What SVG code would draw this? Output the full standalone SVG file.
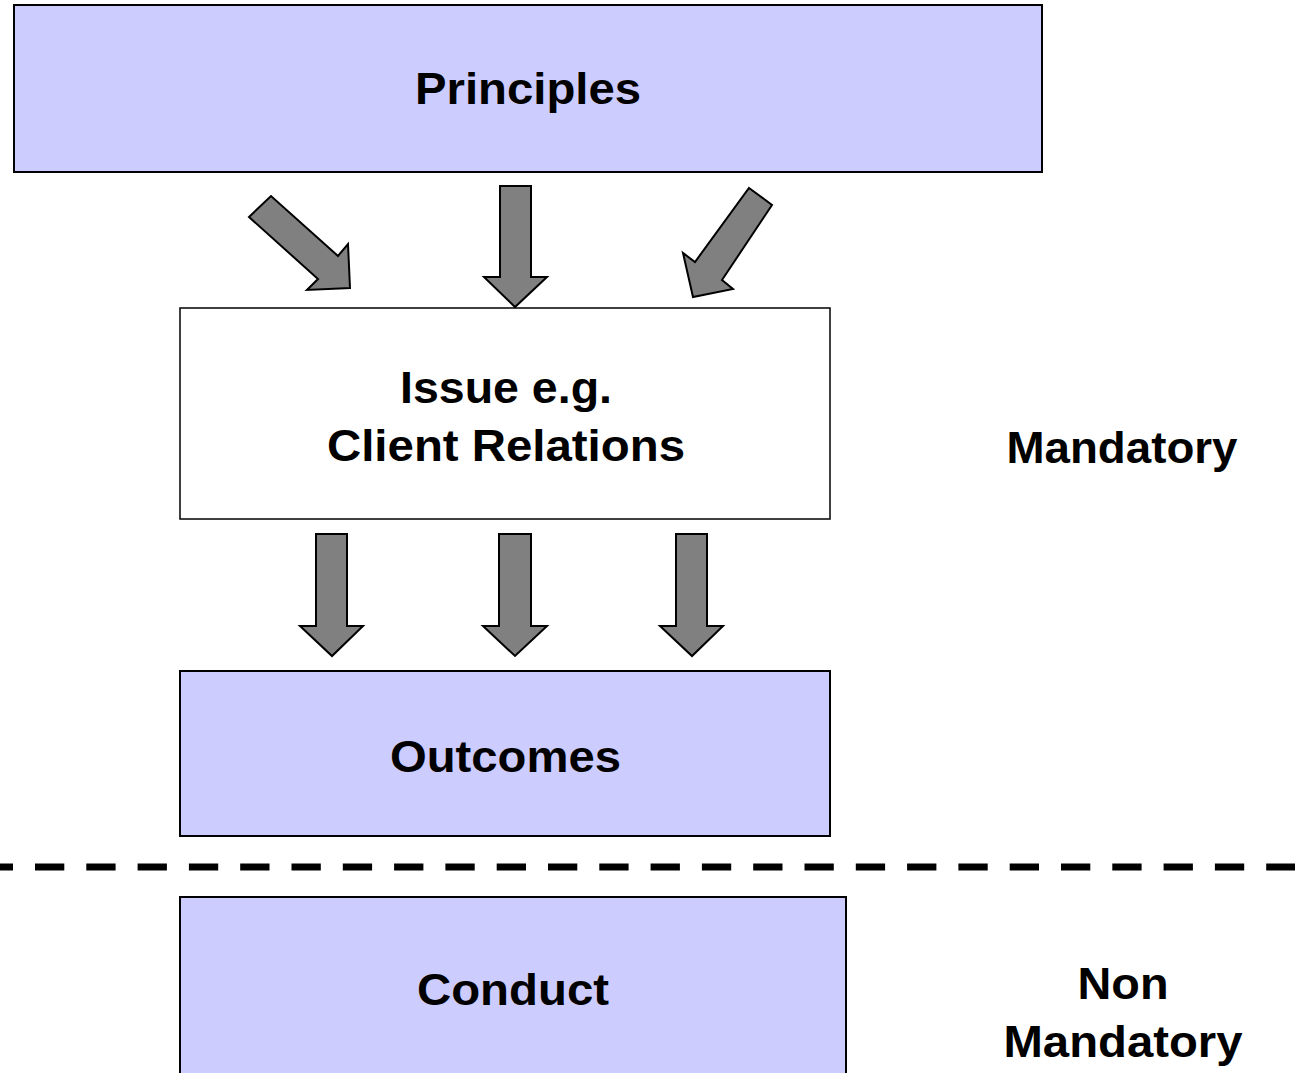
<svg xmlns="http://www.w3.org/2000/svg" width="1295" height="1073" viewBox="0 0 1295 1073">
<style>
.box{fill:#CCCCFF;stroke:#000;stroke-width:2}
.wbox{fill:#FFFFFF;stroke:#000;stroke-width:1.5}
.arr{fill:#808080;stroke:#000;stroke-width:2;stroke-linejoin:miter}
.t{font-family:"Liberation Sans",Arial,sans-serif;font-weight:bold;font-size:44px;fill:#000;text-anchor:middle}
</style>
<rect width="1295" height="1073" fill="#FFFFFF"/>
<g id="principles">
<rect class="box" x="14" y="5" width="1028" height="167"/>
<text class="t" x="528" y="104" textLength="226" lengthAdjust="spacingAndGlyphs">Principles</text>
</g>
<g id="issue">
<rect class="wbox" x="180" y="308" width="650" height="211"/>
<text class="t" x="506" y="403" textLength="212" lengthAdjust="spacingAndGlyphs">Issue e.g.</text>
<text class="t" x="506" y="461" textLength="358" lengthAdjust="spacingAndGlyphs">Client Relations</text>
</g>
<g id="outcomes">
<rect class="box" x="180" y="671" width="650" height="165"/>
<text class="t" x="505.5" y="772" textLength="231" lengthAdjust="spacingAndGlyphs">Outcomes</text>
</g>
<g id="conduct">
<rect class="box" x="180" y="897" width="666" height="200"/>
<text class="t" x="513" y="1005" textLength="192" lengthAdjust="spacingAndGlyphs">Conduct</text>
</g>
<g id="mandatory">
<text class="t" x="1122" y="463" textLength="231" lengthAdjust="spacingAndGlyphs">Mandatory</text>
</g>
<g id="non-mandatory">
<text class="t" x="1123" y="999" textLength="91" lengthAdjust="spacingAndGlyphs">Non</text>
<text class="t" x="1123" y="1057" textLength="239" lengthAdjust="spacingAndGlyphs">Mandatory</text>
</g>
<g id="connectors">
<polygon class="arr" points="249,217 271,196 338,256 348,244 350,288 307,290 318,279"/>
<polygon class="arr" points="500,186 531,186 531,277 547,277 515,307 484,277 500,277"/>
<polygon class="arr" points="749,188 772,205 722,280 733,289 693,297 683,253 695,262"/>
<polygon class="arr" points="316,534 347,534 347,626 363,626 332,656 300,626 316,626"/>
<polygon class="arr" points="499,534 531,534 531,626 547,626 515,656 483,626 499,626"/>
<polygon class="arr" points="676,534 707,534 707,626 723,626 692,656 660,626 676,626"/>
<line x1="0" y1="867" x2="1295" y2="867" stroke="#000" stroke-width="7" stroke-dasharray="29.3 22" stroke-dashoffset="16.3"/>
</g>
</svg>
